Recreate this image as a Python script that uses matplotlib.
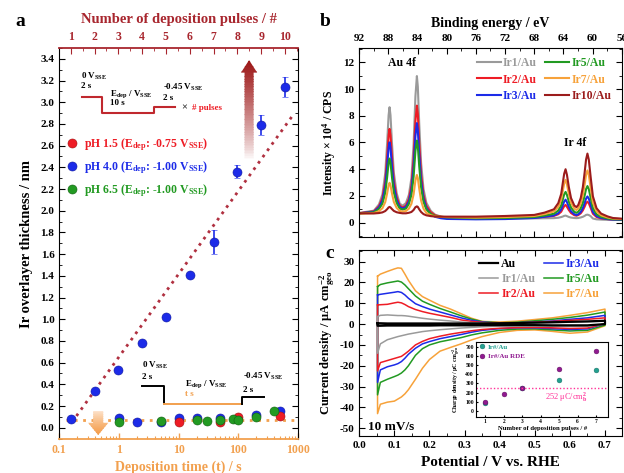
import numpy as np
import matplotlib
matplotlib.use("Agg")
import matplotlib.pyplot as plt
from matplotlib.patches import Polygon, Rectangle
from matplotlib.colors import to_rgb
from matplotlib.ticker import MultipleLocator, LogLocator, FuncFormatter, NullFormatter

plt.rcParams['font.family'] = ['Liberation Serif', 'DejaVu Serif']
plt.rcParams['font.weight'] = 'bold'
plt.rcParams['axes.labelweight'] = 'bold'
plt.rcParams['mathtext.fontset'] = 'custom'
plt.rcParams['mathtext.rm'] = 'Liberation Serif:bold'
plt.rcParams['mathtext.it'] = 'Liberation Serif:italic:bold'
plt.rcParams['mathtext.bf'] = 'Liberation Serif:bold'
plt.rcParams['mathtext.default'] = 'rm'
plt.rcParams['axes.unicode_minus'] = False

# colours
DRED = '#a8262e'
ORANGE = '#f2a04e'
C_RED = '#ee1c25'
C_BLUE = '#1c2be8'
C_GREEN = '#229a22'
C_GREY = '#9a9a9a'
C_ORANGE = '#f7a23a'
C_DRED = '#9b1c1c'

# ---- panel a : thickness ----
pulses = [1, 2, 3, 4, 5, 6, 7, 8, 9, 10]
thick_pulse = [0.08, 0.34, 0.53, 0.78, 1.02, 1.41, 1.71, 2.36, 2.79, 3.14]
err_pulse = [0, 0, 0, 0, 0, 0, 0.11, 0.06, 0.09, 0.09]
fit_pulse = [1.05, 10.3]
fit_thick = [0.05, 2.87]

t_ph15 = [10, 50, 100, 500]
th_ph15 = [0.05, 0.05, 0.10, 0.11]
t_ph40 = [1, 2, 5, 10, 20, 50, 200, 500]
th_ph40 = [0.085, 0.05, 0.055, 0.09, 0.09, 0.09, 0.12, 0.15]
t_ph65 = [1, 5, 20, 30, 50, 80, 100, 200, 400]
th_ph65 = [0.05, 0.06, 0.075, 0.065, 0.07, 0.08, 0.07, 0.10, 0.15]
flat_t = [0.13, 900]
flat_th = [0.07, 0.07]

# ---- panel b : XPS ----
be = [92, 90, 89.3, 88.83, 88.44, 88.18, 87.98, 87.85, 87.72, 87.52,
      87.26, 86.87, 86.45, 86.05, 85.6, 85.2, 84.85, 84.55, 84.3, 84.1,
      83.97, 83.78, 83.52, 83.19, 82.8, 82.2, 81.6, 80.8, 80.0, 76.0,
      72.0, 68.0, 66.6, 65.3, 64.7, 64.3, 64.08, 63.89, 63.7, 63.51,
      63.26, 62.95, 62.5, 62.2, 61.95, 61.62, 61.33, 61.08, 60.89, 60.7,
      60.51, 60.26, 59.95, 59.45, 58.83, 57.95, 57.2, 56.0]
xps_ir1 = [0.73, 0.90, 1.37, 2.12, 3.70, 5.96, 8.04, 8.64, 8.05, 5.98,
           3.74, 2.20, 1.43, 1.27, 1.47, 2.08, 3.33, 5.88, 9.46, 10.97,
           10.18, 7.44, 4.47, 2.52, 1.49, 0.89, 0.60, 0.46, 0.39, 0.30,
           0.30, 0.32, 0.33, 0.34, 0.37, 0.42, 0.46, 0.51, 0.53, 0.49,
           0.43, 0.38, 0.35, 0.34, 0.35, 0.39, 0.44, 0.51, 0.58, 0.60,
           0.57, 0.49, 0.31, 0.25, 0.23, 0.21, 0.20, 0.20]
xps_ir2 = [0.71, 0.85, 1.23, 1.83, 3.08, 4.89, 6.54, 7.02, 6.55, 4.90,
           3.12, 1.89, 1.27, 1.14, 1.28, 1.77, 2.76, 4.76, 7.59, 8.76,
           8.14, 5.97, 3.63, 2.07, 1.26, 0.78, 0.55, 0.44, 0.39, 0.32,
           0.33, 0.38, 0.44, 0.51, 0.63, 0.82, 1.05, 1.23, 1.33, 1.19,
           0.95, 0.72, 0.56, 0.52, 0.57, 0.70, 0.92, 1.20, 1.45, 1.57,
           1.45, 1.11, 0.67, 0.43, 0.32, 0.27, 0.24, 0.23]
xps_ir3 = [0.70, 0.82, 1.14, 1.64, 2.70, 4.21, 5.61, 6.01, 5.62, 4.23,
           2.72, 1.69, 1.17, 1.06, 1.18, 1.58, 2.42, 4.10, 6.48, 7.45,
           6.93, 5.11, 3.13, 1.81, 1.10, 0.62, 0.44, 0.33, 0.28, 0.25,
           0.27, 0.35, 0.44, 0.54, 0.71, 0.99, 1.31, 1.58, 1.72, 1.54,
           1.19, 0.85, 0.63, 0.57, 0.63, 0.80, 1.09, 1.47, 1.80, 1.96,
           1.80, 1.35, 0.80, 0.49, 0.35, 0.27, 0.23, 0.21]
xps_ir5 = [0.69, 0.78, 1.03, 1.42, 2.24, 3.41, 4.49, 4.80, 4.49, 3.42,
           2.26, 1.46, 1.06, 0.98, 1.06, 1.40, 2.07, 3.44, 5.37, 6.14,
           5.71, 4.24, 2.64, 1.56, 0.99, 0.65, 0.51, 0.43, 0.40, 0.33,
           0.35, 0.42, 0.53, 0.67, 0.91, 1.29, 1.74, 2.12, 2.30, 2.08,
           1.59, 1.13, 0.81, 0.74, 0.82, 1.08, 1.49, 2.04, 2.51, 2.74,
           2.51, 1.87, 1.08, 0.63, 0.43, 0.31, 0.26, 0.24]
xps_ir7 = [0.67, 0.72, 0.86, 1.08, 1.54, 2.20, 2.80, 2.98, 2.80, 2.20,
           1.55, 1.10, 0.88, 0.83, 0.87, 1.05, 1.41, 2.12, 3.16, 3.57,
           3.34, 2.55, 1.65, 1.05, 0.73, 0.56, 0.48, 0.44, 0.42, 0.38,
           0.42, 0.50, 0.64, 0.84, 1.19, 1.74, 2.38, 2.93, 3.20, 2.87,
           2.17, 1.50, 1.05, 0.95, 1.07, 1.45, 2.05, 2.87, 3.57, 3.91,
           3.56, 2.62, 1.50, 0.85, 0.55, 0.39, 0.31, 0.27]
xps_ir10 = [0.70, 0.69, 0.72, 0.77, 0.87, 1.01, 1.14, 1.18, 1.14, 1.02,
            0.88, 0.78, 0.73, 0.70, 0.70, 0.74, 0.80, 0.95, 1.16, 1.22,
            1.18, 1.00, 0.80, 0.64, 0.55, 0.49, 0.46, 0.45, 0.45, 0.45,
            0.50, 0.58, 0.75, 1.00, 1.46, 2.15, 2.97, 3.66, 4.00, 3.58,
            2.69, 1.84, 1.28, 1.16, 1.33, 1.84, 2.66, 3.77, 4.72, 5.17,
            4.71, 3.43, 1.97, 1.08, 0.68, 0.47, 0.35, 0.30]

# ---- panel c : CVs (anodic / cathodic branch on the same grid) ----
pot = [0.052, 0.06, 0.08, 0.10, 0.11, 0.12, 0.13, 0.14, 0.16, 0.18, 0.20, 0.23,
       0.26, 0.29, 0.32, 0.35, 0.40, 0.45, 0.50, 0.55, 0.60, 0.65, 0.70]
cv_au_up = [0.4, 0.4, 0.3, 0.3, 0.3, 0.3, 0.3, 0.3, 0.3, 0.3, 0.3, 0.3,
            0.3, 0.3, 0.3, 0.3, 0.4, 0.5, 0.7, 0.9, 1.1, 1.3, 1.6]
cv_au_dn = [-0.8, -0.8, -0.7, -0.7, -0.7, -0.7, -0.7, -0.7, -0.7, -0.7, -0.7, -0.6,
            -0.6, -0.6, -0.6, -0.5, -0.5, -0.5, -0.5, -0.6, -0.6, -0.6, 0.0]
cv_ir1_up = [3.6, 4.2, 4.4, 4.2, 4.1, 4.1, 4.0, 3.8, 3.3, 2.8, 2.4, 1.9,
             1.5, 1.0, 0.7, 0.5, 0.3, 0.4, 0.5, 0.7, 0.9, 1.1, 1.5]
cv_ir1_dn = [-14.0, -9.5, -7.5, -6.5, -6.0, -5.6, -5.2, -4.8, -4.2, -3.6, -3.2, -2.7,
             -2.3, -1.9, -1.6, -1.3, -1.0, -0.9, -0.9, -1.0, -1.1, -1.0, 0.0]
cv_ir2_up = [9.2, 9.3, 9.5, 10.2, 10.5, 10.2, 9.4, 8.4, 7.0, 6.0, 5.2, 4.2,
             3.2, 2.0, 1.3, 0.8, 0.4, 0.6, 0.9, 1.3, 1.8, 2.3, 3.0]
cv_ir2_dn = [-22.5, -18.5, -17.5, -16.5, -16.0, -15.5, -14.3, -13.0, -10.0, -8.3, -7.0, -5.8,
             -4.8, -4.0, -3.2, -2.6, -2.0, -1.7, -1.6, -1.8, -2.1, -1.9, 0.2]
cv_ir3_up = [14.0, 14.3, 14.8, 15.3, 15.6, 15.2, 14.0, 12.4, 9.8, 8.4, 7.2, 5.8,
             4.4, 3.0, 1.8, 1.0, 0.4, 0.6, 1.0, 1.5, 2.3, 3.0, 4.2]
cv_ir3_dn = [-28.0, -22.0, -20.5, -19.6, -19.0, -18.0, -16.4, -14.5, -11.6, -9.5, -8.4, -7.0,
             -6.0, -5.0, -3.9, -3.0, -2.2, -1.8, -1.8, -2.2, -2.6, -2.3, 0.2]
cv_ir5_up = [18.0, 19.0, 19.8, 20.4, 20.7, 20.2, 18.8, 17.0, 13.5, 11.0, 9.5, 7.5,
             5.8, 4.0, 2.4, 1.2, 0.6, 0.9, 1.6, 2.3, 3.2, 4.3, 5.8]
cv_ir5_dn = [-34.0, -28.0, -26.5, -25.2, -24.5, -23.5, -22.0, -20.0, -15.0, -11.8, -10.0, -8.5,
             -7.5, -6.5, -5.2, -4.2, -3.0, -2.4, -2.3, -2.8, -3.3, -3.0, -0.5]
cv_ir7_up = [23.0, 24.0, 25.3, 26.5, 27.0, 26.8, 24.0, 21.0, 16.0, 13.2, 11.5, 9.0,
             7.2, 5.0, 2.8, 1.3, 1.0, 1.4, 2.2, 3.0, 4.2, 5.5, 7.2]
cv_ir7_dn = [-43.0, -38.5, -37.5, -37.0, -36.0, -35.0, -33.5, -31.5, -26.5, -21.2, -17.0, -13.0,
             -11.2, -9.5, -7.6, -6.0, -4.0, -3.0, -2.8, -3.5, -4.4, -3.8, -0.8]

# inset: charge density vs pulses
ins_n = [1, 3, 5, 7]
ins_q = [85, 255, 335, 450]
ins_n_rde = [1, 2, 3, 5, 7]
ins_q_rde = [100, 190, 248, 458, 650]
q_ref = 252


def gradient_arrow(ax, xc, y_tail, y_tip, shaft_w, head_w, head_l, color, tail_color):
    sign = 1 if y_tip > y_tail else -1
    y_neck = y_tip - sign * head_l
    verts = [(xc - shaft_w / 2, y_tail), (xc - shaft_w / 2, y_neck), (xc - head_w / 2, y_neck),
             (xc, y_tip), (xc + head_w / 2, y_neck), (xc + shaft_w / 2, y_neck),
             (xc + shaft_w / 2, y_tail)]
    poly = Polygon(verts, closed=True, transform=ax.transAxes, fc='none', ec='none')
    ax.add_patch(poly)
    n = 60
    ys = np.linspace(y_tail, y_tip, n + 1)
    c0 = np.array(to_rgb(tail_color))
    c1 = np.array(to_rgb(color))
    for i in range(n):
        f = ((i + 0.5) / n) ** 0.8
        col = c0 + (c1 - c0) * f
        r = Rectangle((xc - head_w, min(ys[i], ys[i + 1])), 2 * head_w,
                      abs(ys[i + 1] - ys[i]) * 1.3, transform=ax.transAxes,
                      fc=col, ec='none')
        ax.add_patch(r)
        r.set_clip_path(poly)


fig = plt.figure(figsize=(6.24, 4.73), dpi=100)

# =================== panel a ===================
ax = fig.add_axes([0.095, 0.0719, 0.3826, 0.8266])
ax.set_xscale('log')
ax.set_xlim(0.1, 1000)
ax.set_ylim(-0.104, 3.5)
axt = ax.twiny()
axt.set_xlim(0.52, 10.55)

ax.plot(flat_t, flat_th, ls=(0, (1, 2)), color=ORANGE, lw=2.0)
ms = 6.5
h40, = ax.plot(t_ph40, th_ph40, 'o', color=C_BLUE, ms=ms, mec='#1018a0', mew=0.4)
h15, = ax.plot(t_ph15, th_ph15, 'o', color=C_RED, ms=ms, mec='#a01010', mew=0.4)
h65, = ax.plot(t_ph65, th_ph65, 'o', color=C_GREEN, ms=ms, mec='#106010', mew=0.4)

axt.plot(fit_pulse, fit_thick, ls=(0, (1, 1.8)), color='#b03040', lw=2.0)
axt.errorbar(pulses, thick_pulse, yerr=err_pulse, fmt='o', color=C_BLUE, ms=ms,
             mec='#1018a0', mew=0.4, elinewidth=1.2, capsize=2.5, capthick=1.2)

# axes styling
ax.spines['bottom'].set_color(ORANGE)
ax.spines['bottom'].set_linewidth(1.3)
ax.spines['top'].set_visible(False)
for s in ['bottom', 'left', 'right']:
    axt.spines[s].set_visible(False)
axt.spines['top'].set_color(DRED)
axt.spines['top'].set_linewidth(1.3)

ax.xaxis.set_major_locator(LogLocator(base=10, numticks=10))
ax.xaxis.set_minor_locator(LogLocator(base=10, subs=np.arange(2, 10), numticks=20))
ax.xaxis.set_major_formatter(FuncFormatter(lambda v, p: '%g' % v))
ax.xaxis.set_minor_formatter(NullFormatter())
ax.tick_params(axis='x', which='both', direction='in', colors=ORANGE, labelsize=8.5,
               top=False)
ax.tick_params(axis='x', which='major', length=4, width=1)
ax.tick_params(axis='x', which='minor', length=2, width=0.8)
ax.yaxis.set_major_locator(MultipleLocator(0.2))
ax.yaxis.set_minor_locator(MultipleLocator(0.1))
ax.yaxis.set_major_formatter(FuncFormatter(lambda v, p: '%.1f' % v))
ax.tick_params(axis='y', which='both', direction='in', left=True, right=True, labelsize=8)
ax.tick_params(axis='y', which='major', length=4)
ax.tick_params(axis='y', which='minor', length=2)
axt.xaxis.set_major_locator(MultipleLocator(1))
axt.xaxis.set_minor_locator(MultipleLocator(0.5))
axt.tick_params(axis='x', which='both', direction='in', colors=DRED, labelsize=8.5)
axt.tick_params(axis='x', which='major', length=4)
axt.tick_params(axis='x', which='minor', length=2)

ax.set_xlabel('Deposition time (t) / s', color=ORANGE, fontsize=10, labelpad=3)
ax.set_ylabel('Ir overlayer thickness / nm', fontsize=10.5, labelpad=5)
axt.set_xlabel('Number of deposition pulses / #', color=DRED, fontsize=10.5, labelpad=6)

# upper schematic (pulse sequence)
wx = [0.094, 0.178, 0.178, 0.398, 0.398, 0.485]
wy = [0.875, 0.875, 0.833, 0.833, 0.848, 0.848]
axt.plot(wx, wy, color='#c0282e', lw=1.5, transform=axt.transAxes)
fs_s = 6.5
axt.text(0.091, 0.928, r'0 V$_{SSE}$', transform=axt.transAxes, fontsize=fs_s, va='center')
axt.text(0.091, 0.903, '2 s', transform=axt.transAxes, fontsize=fs_s, va='center')
axt.text(0.212, 0.882, r'E$_{dep}$ / V$_{SSE}$', transform=axt.transAxes, fontsize=fs_s, va='center')
axt.text(0.212, 0.859, '10 s', transform=axt.transAxes, fontsize=fs_s, va='center')
axt.text(0.434, 0.898, r'-0.45 V$_{SSE}$', transform=axt.transAxes, fontsize=fs_s, va='center')
axt.text(0.434, 0.872, '2 s', transform=axt.transAxes, fontsize=fs_s, va='center')
axt.text(0.51, 0.847, '\u00d7', transform=axt.transAxes, fontsize=7.5, va='center', color='#333333')
axt.text(0.555, 0.847, '# pulses', transform=axt.transAxes, fontsize=6.5, va='center', color=C_RED)

# lower schematic (constant potential)
bx1 = [0.345, 0.44, 0.44]
by1 = [0.136, 0.136, 0.0895]
ox = [0.44, 0.764]
oy = [0.0895, 0.0895]
bx2 = [0.764, 0.764, 0.859]
by2 = [0.0895, 0.107, 0.107]
axt.plot(bx1, by1, color='black', lw=1.4, transform=axt.transAxes)
axt.plot(ox, oy, color=ORANGE, lw=1.4, transform=axt.transAxes)
axt.plot(bx2, by2, color='black', lw=1.4, transform=axt.transAxes)
axt.text(0.345, 0.189, r'0 V$_{SSE}$', transform=axt.transAxes, fontsize=fs_s, va='center')
axt.text(0.345, 0.159, '2 s', transform=axt.transAxes, fontsize=fs_s, va='center')
axt.text(0.527, 0.141, r'E$_{dep}$ / V$_{SSE}$', transform=axt.transAxes, fontsize=fs_s, va='center')
axt.text(0.527, 0.115, 't s', transform=axt.transAxes, fontsize=fs_s, va='center', color=ORANGE)
axt.text(0.771, 0.159, r'-0.45 V$_{SSE}$', transform=axt.transAxes, fontsize=fs_s, va='center')
axt.text(0.771, 0.125, '2 s', transform=axt.transAxes, fontsize=fs_s, va='center')

# arrows
gradient_arrow(axt, 0.795, 0.715, 0.969, 0.038, 0.068, 0.032, '#9b1414', '#ffffff')
gradient_arrow(axt, 0.163, 0.0716, 0.0102, 0.042, 0.084, 0.031, '#f49a45', '#fde6d2')

leg = axt.legend([h15, h40, h65],
                 [r'pH 1.5 (E$_{dep}$: -0.75 V$_{SSE}$)',
                  r'pH 4.0 (E$_{dep}$: -1.00 V$_{SSE}$)',
                  r'pH 6.5 (E$_{dep}$: -1.00 V$_{SSE}$)'],
                 loc='upper left', bbox_to_anchor=(0.04, 0.775), frameon=False,
                 fontsize=8.5, handlelength=0.6, handletextpad=0.7,
                 labelspacing=0.55, borderpad=0, borderaxespad=0)
for txt, col in zip(leg.get_texts(), [C_RED, C_BLUE, C_GREEN]):
    txt.set_color(col)

fig.text(0.032, 0.955, 'a', fontsize=14, fontweight='bold', va='center', ha='center')

# =================== panel b ===================
axb = fig.add_axes([0.5758, 0.499, 0.4205, 0.3995])
xps = [(xps_ir1, C_GREY, 'Ir1/Au'), (xps_ir2, C_RED, 'Ir2/Au'), (xps_ir3, C_BLUE, 'Ir3/Au'),
       (xps_ir5, C_GREEN, 'Ir5/Au'), (xps_ir7, C_ORANGE, 'Ir7/Au'), (xps_ir10, C_DRED, 'Ir10/Au')]
hb = []
for vals, col, lab in xps:
    h, = axb.plot(be, vals, color=col, lw=1.5, label=lab)
    hb.append(h)
axb.set_xlim(92, 56)
axb.set_ylim(-1.07, 13.07)
axb.xaxis.set_major_locator(MultipleLocator(4))
axb.xaxis.set_minor_locator(MultipleLocator(2))
axb.yaxis.set_major_locator(MultipleLocator(2))
axb.yaxis.set_minor_locator(MultipleLocator(1))
axb.tick_params(axis='x', which='both', direction='in', top=True, bottom=True,
                labeltop=True, labelbottom=False, labelsize=8)
axb.tick_params(axis='y', which='both', direction='in', left=True, right=True, labelsize=8)
axb.tick_params(which='major', length=4)
axb.tick_params(which='minor', length=2)
axb.xaxis.set_label_position('top')
axb.set_xlabel('Binding energy / eV', fontsize=10, labelpad=5)
axb.set_ylabel(r'Intensity $\times$ 10$^4$ / CPS', fontsize=8.5, labelpad=4)
legb = axb.legend(handles=hb, ncol=2, loc='upper left', bbox_to_anchor=(0.449, 0.95),
                  frameon=False, fontsize=8.5, handlelength=2.0, handletextpad=0.2,
                  columnspacing=0.7, labelspacing=0.35, borderpad=0, borderaxespad=0)
for txt, (_, col, _) in zip(legb.get_texts(), xps):
    txt.set_color(col)
axb.text(0.162, 0.921, 'Au 4f', transform=axb.transAxes, fontsize=8.5, ha='center', va='center')
axb.text(0.822, 0.499, 'Ir 4f', transform=axb.transAxes, fontsize=8.5, ha='center', va='center')
fig.text(0.521, 0.955, 'b', fontsize=14, fontweight='bold', va='center', ha='center')

# =================== panel c ===================
axc = fig.add_axes([0.5758, 0.0789, 0.4205, 0.3926])
cvs = [(cv_ir7_up, cv_ir7_dn, C_ORANGE, 'Ir7/Au'),
       (cv_ir5_up, cv_ir5_dn, C_GREEN, 'Ir5/Au'),
       (cv_ir3_up, cv_ir3_dn, C_BLUE, 'Ir3/Au'),
       (cv_ir2_up, cv_ir2_dn, C_RED, 'Ir2/Au'),
       (cv_ir1_up, cv_ir1_dn, C_GREY, 'Ir1/Au'),
       (cv_au_up, cv_au_dn, 'black', 'Au')]
hc = {}
for up, dn, col, lab in cvs:
    xs = pot + pot[::-1] + [pot[0]]
    ys = up + dn[::-1] + [up[0]]
    h, = axc.plot(xs, ys, color=col, lw=1.6 if lab == 'Au' else 1.1, label=lab)
    hc[lab] = h
axc.set_xlim(0, 0.7476)
axc.set_ylim(-53.6, 35.6)
axc.xaxis.set_major_locator(MultipleLocator(0.1))
axc.xaxis.set_minor_locator(MultipleLocator(0.05))
axc.yaxis.set_major_locator(MultipleLocator(10))
axc.yaxis.set_minor_locator(MultipleLocator(5))
axc.xaxis.set_major_formatter(FuncFormatter(lambda v, p: '%.1f' % v))
axc.tick_params(which='both', direction='in', top=True, right=True, labelsize=8)
axc.tick_params(which='major', length=4)
axc.tick_params(which='minor', length=2)
axc.set_xlabel('Potential / V vs. RHE', fontsize=11, labelpad=5)
axc.set_ylabel('Current density / \u03bcA cm$^{-2}_{geo}$', fontsize=9, labelpad=2)
order = ['Au', 'Ir1/Au', 'Ir2/Au', 'Ir3/Au', 'Ir5/Au', 'Ir7/Au']
legc = axc.legend(handles=[hc[k] for k in order], ncol=2, loc='upper left',
                  bbox_to_anchor=(0.456, 0.955), frameon=False, fontsize=8.5,
                  handlelength=1.6, handletextpad=0.3, columnspacing=0.7,
                  labelspacing=0.25, borderpad=0, borderaxespad=0)
for txt, k in zip(legc.get_texts(), order):
    txt.set_color(hc[k].get_color())
axc.text(0.033, 0.048, '10 mV/s', transform=axc.transAxes, fontsize=9.5, va='center')
fig.text(0.529, 0.465, 'c', fontsize=14, fontweight='bold', va='center', ha='center')

# inset
axi = fig.add_axes([0.7628, 0.119, 0.212, 0.1586])
hi1, = axi.plot(ins_n, ins_q, 'o', color='#23a090', ms=3.5, mec='#176b60', mew=0.3)
hi2, = axi.plot(ins_n_rde, ins_q_rde, 'o', color='#901a90', ms=3.5, mec='#5a105a', mew=0.3)
axi.axhline(q_ref, color='#ff3399', ls=(0, (1, 1.5)), lw=1.0)
axi.set_xlim(0.5, 7.65)
axi.set_ylim(-62, 755)
axi.xaxis.set_major_locator(MultipleLocator(1))
axi.yaxis.set_major_locator(MultipleLocator(100))
axi.tick_params(which='both', direction='in', labelsize=4, length=1.5, pad=1.5)
axi.set_xlabel('Number of deposition pulses / #', fontsize=4.8, labelpad=1.5)
axi.set_ylabel('Charge density / \u03bcC cm$^{-2}_{geo}$', fontsize=4.2, labelpad=1.5)
legi = axi.legend([hi1, hi2], ['Ir#/Au', 'Ir#/Au RDE'], loc='upper left',
                  bbox_to_anchor=(0.03, 0.97), frameon=False, fontsize=5,
                  handlelength=0.6, handletextpad=0.5, labelspacing=0.5,
                  borderpad=0, borderaxespad=0)
legi.get_texts()[0].set_color('#23a090')
legi.get_texts()[1].set_color('#901a90')
axi.text(0.52, 0.253, '252 \u03bcC/cm$_{b}^{2}$', transform=axi.transAxes, fontsize=6,
         color='#ff3399', va='center', fontweight='normal')

fig.savefig('out.png', dpi=100)
